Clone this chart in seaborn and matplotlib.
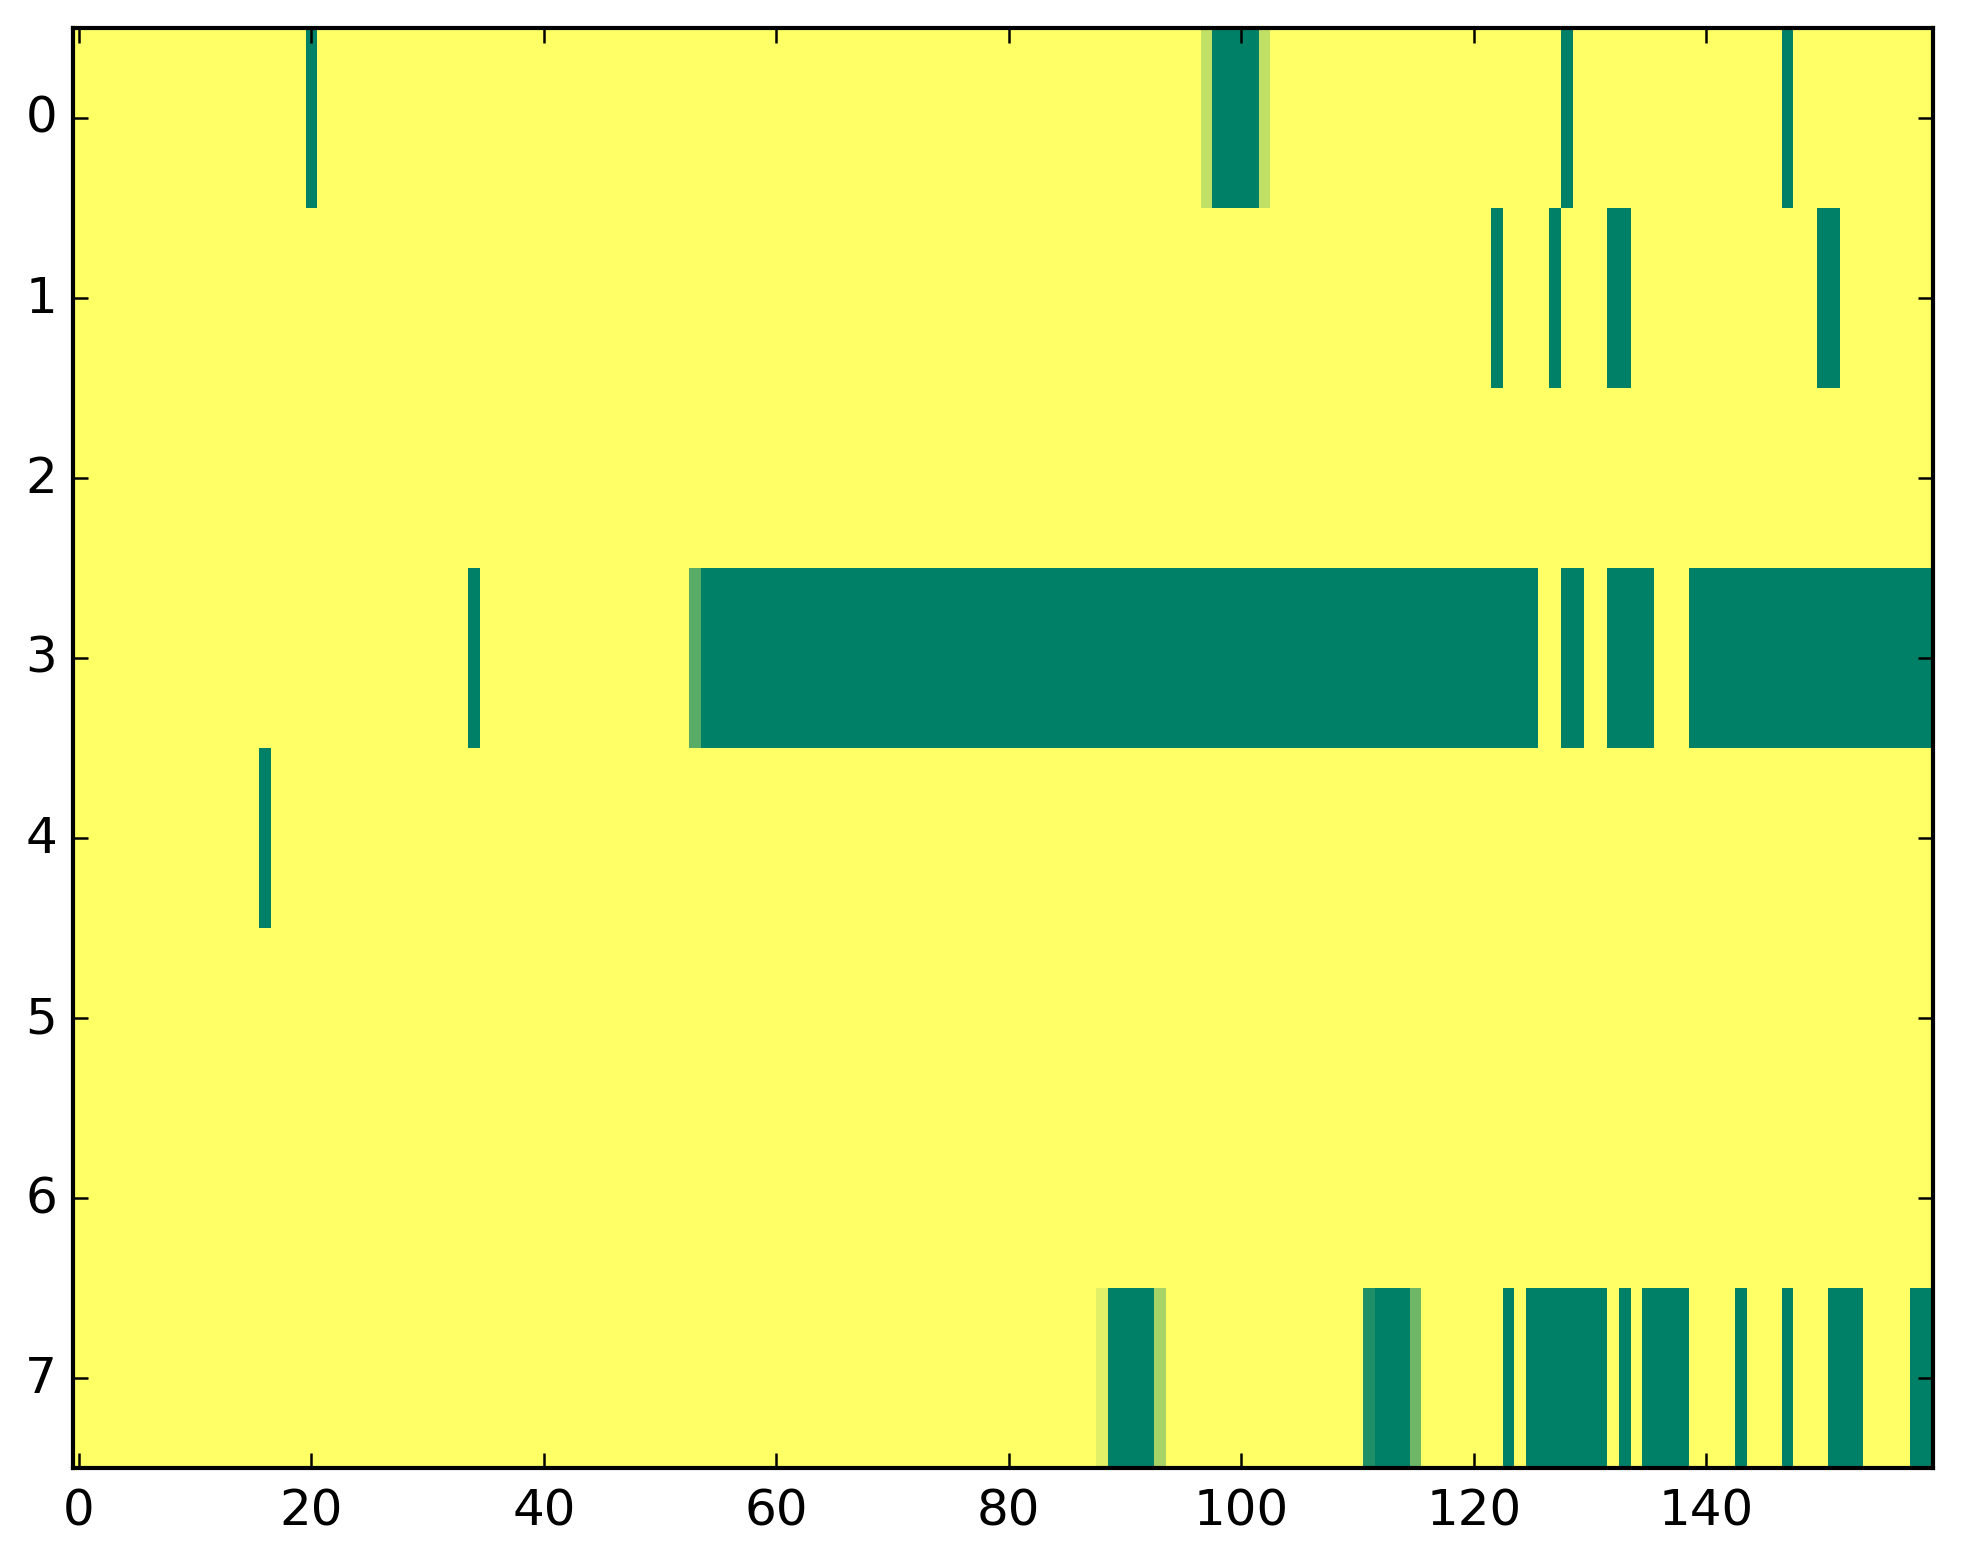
import numpy as np
import matplotlib
matplotlib.use('Agg')
import matplotlib.pyplot as plt
import seaborn as sns

# grid size: 8 rows x 160 columns, value 1 everywhere except listed cells
n_rows = 8
n_cols = 160

# columns at value 0 (dark green) per row
row0_zero = [20, 98, 99, 100, 101, 128, 147]
row1_zero = [122, 127, 132, 133, 150, 151]
row3_zero = [34] + list(range(54, 126)) + [128, 129, 132, 133, 134, 135] + list(range(139, 160))
row4_zero = [16]
row7_zero = [89, 90, 91, 92, 112, 113, 114, 123, 125, 126, 127, 128, 129, 130, 131,
             133, 135, 136, 137, 138, 143, 147, 151, 152, 153, 158, 159]

# in-between cells (column: value)
row0_partial = {97: 0.75, 102: 0.75}
row3_partial = {53: 0.35}
row7_partial = {88: 0.88, 93: 0.66, 111: 0.12, 115: 0.43}

zeros = {0: row0_zero, 1: row1_zero, 3: row3_zero, 4: row4_zero, 7: row7_zero}
partials = {0: row0_partial, 3: row3_partial, 7: row7_partial}

grid = np.ones((n_rows, n_cols))
for r, cols in zeros.items():
    grid[r, cols] = 0.0
for r, d in partials.items():
    for c, v in d.items():
        grid[r, c] = v

xtick_vals = [0, 20, 40, 60, 80, 100, 120, 140]
ytick_vals = list(range(8))

plt.rcParams['font.family'] = ['DejaVu Sans']
plt.rcParams['font.size'] = 12

fig = plt.figure(figsize=(1963 / 300, 1564 / 300), dpi=300, facecolor='white')
ax = fig.add_axes([0.0372, 0.0607, 0.9475, 0.9208])

sns.heatmap(grid, cmap='summer', vmin=0, vmax=1, cbar=False, ax=ax)

ax.set_xticks([v + 0.5 for v in xtick_vals])
ax.set_xticklabels([str(v) for v in xtick_vals], rotation=0)
ax.set_yticks([v + 0.5 for v in ytick_vals])
ax.set_yticklabels([str(v) for v in ytick_vals], rotation=0)

for s in ax.spines.values():
    s.set_visible(True)
    s.set_linewidth(1.0)
    s.set_color('black')

ax.tick_params(axis='both', direction='in', length=3.5, width=0.6, color='black',
               top=True, right=True, labelsize=12)
ax.tick_params(axis='x', pad=4.5)
ax.tick_params(axis='y', pad=3.8)

fig.savefig('out.png', dpi=300, facecolor='white')
